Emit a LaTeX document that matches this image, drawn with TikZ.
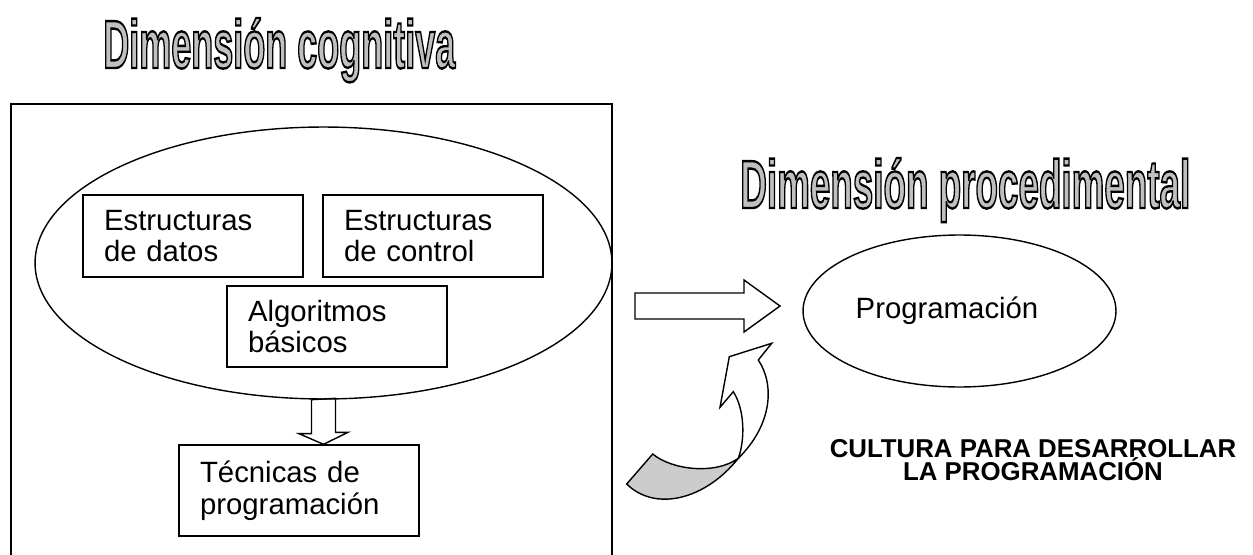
\documentclass[tikz,border=0pt]{standalone}
\usepackage{fontspec}
\setmainfont{Liberation Sans}
\usepackage{xcolor}
\usepackage{tikz}
\usetikzlibrary{shapes,positioning,calc}

\definecolor{titlegray}{RGB}{192,192,192}
\definecolor{backgray}{RGB}{204,204,204}

\tikzset{
  box/.style={draw,line width=0.8pt,rectangle,align=left,inner xsep=0.42cm,font=\fontsize{16.7}{18}\selectfont},
  oval/.style={draw,line width=0.8pt,ellipse,inner sep=0pt},
  blockarrow/.style={draw,line width=0.8pt,line join=miter},
  title/.style={inner sep=0pt,anchor=base west}
}
% outlined grey lettering
\newcommand{\wordart}[2]{\resizebox{#1}{1cm}{\fontsize{20}{20}\selectfont\bfseries\color{titlegray}\special{pdf:literal direct 2 Tr 0.7 w 0 G}#2\special{pdf:literal direct 0 Tr}}}

\begin{document}
\begin{tikzpicture}[x=0.02cm,y=-0.02cm]
\useasboundingbox (0,0) rectangle (1253,554);

% Titles
\node[title] (titcog) at (103,68) {\wordart{7.04cm}{Dimensión cognitiva}};
\node[title] (titproc) at (740,208) {\wordart{9cm}{Dimensión procedimental}};

% Cognitive frame and ellipse
\node[draw,line width=0.8pt,minimum width=12.02cm,minimum height=9.12cm] (frame) at (311.5,332) {};
\node[oval,minimum width=11.54cm,minimum height=5.44cm] (cogn) at (323.5,263) {};

% Boxes inside
\node[box,text width=3.56cm,minimum height=1.64cm] (datos) at (193,236) {Estructuras\\de datos};
\node[box,text width=3.56cm,minimum height=1.64cm] (control) at (433,236) {Estructuras\\de control};
\node[box,text width=3.56cm,minimum height=1.62cm] (algor) at (337,326.5) {Algoritmos\\básicos};
\node[box,text width=3.96cm,minimum height=1.82cm] (tecnicas) at (299,490.5) {Técnicas de\\programación};

% Down arrow
\draw[blockarrow] ($(cogn.south)+(-12,0)$) -- ++(0,34) -- ++(-12.5,0) -- (cogn.south |- tecnicas.north) -- ++(24.5,-12) -- ++(-12.5,0) -- ++(0,-34) -- cycle;

% Programming side
\node[oval,minimum width=6.26cm,minimum height=3.04cm,font=\fontsize{16.7}{18}\selectfont] (prog) at (959.5,311) {Programación\hspace*{0.5cm}};

% Right arrow
\coordinate (rtail) at (635,306);
\draw[blockarrow] (rtail) ++(0,-13) -- ++(109,0) -- ++(0,-13) -- ++(36,26) -- ++(-36,26) -- ++(0,-13) -- ++(-109,0) -- cycle;

% Curved arrow
\draw[blockarrow,fill=backgray] (652.7,454) .. controls (672,470) and (715,475) .. (738.3,458.3) .. controls (705,500) and (655,512) .. (626.7,484) -- cycle;
\draw[blockarrow,fill=white] (738.3,458.3) .. controls (745,440) and (745,410) .. (733.3,391.7) -- (720,407.3) -- (729.3,356.7) -- (771.7,343.3) -- (758.3,360) .. controls (775,385) and (772,425) .. (738.3,458.3) -- cycle;

% Caption
\node[align=center,font=\fontsize{14.7}{13.4}\selectfont\bfseries] (cultura) at (1033,460) {CULTURA PARA DESARROLLAR\\LA PROGRAMACIÓN};
\end{tikzpicture}
\end{document}
